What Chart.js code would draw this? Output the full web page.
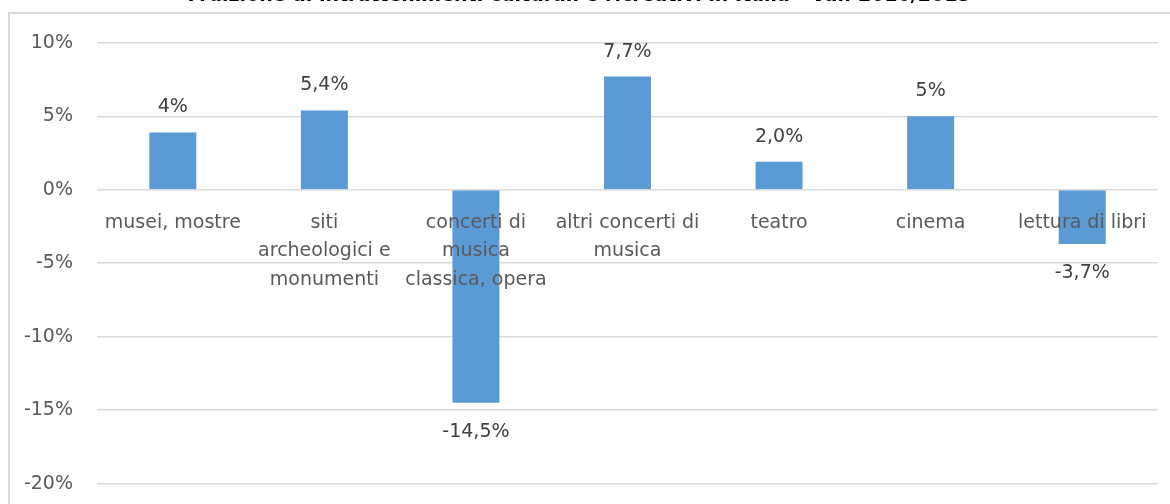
<!DOCTYPE html>
<html>
<head>
<meta charset="utf-8">
<script src="https://cdn.jsdelivr.net/npm/chart.js@4.4.1/dist/chart.umd.min.js"></script>
<style>
html, body { margin: 0; padding: 0; background: #fff; overflow: hidden; width: 1170px; height: 504px; }
#frame { position: absolute; left: 8px; top: 12px; width: 1300px; height: 600px; border: 2px solid #d9d9d9; }
#wrap { position: absolute; left: 0; top: -20px; width: 1170px; height: 539px; }
</style>
</head>
<body>
<div id="frame"></div>
<div id="wrap"><canvas id="chart"></canvas></div>
<script>
const chartTitle = 'Fruizione di intrattenimenti culturali e ricreativi in Italia - Var. 2016/2015';
const categories = [
    'musei, mostre',
    ['siti', 'archeologici e', 'monumenti'],
    ['concerti di', 'musica', 'classica, opera'],
    ['altri concerti di', 'musica'],
    'teatro',
    'cinema',
    'lettura di libri'
];
const values = [3.9, 5.4, -14.5, 7.7, 1.9, 5.0, -3.7];
const valueLabels = ['4%', '5,4%', '-14,5%', '7,7%', '2,0%', '5%', '-3,7%'];
const yMin = -20;
const yMax = 10;
const yStep = 5;

const fontFamily = '"DejaVu Sans"';

// draws the value above / below each bar
const valueLabelPlugin = {
    id: 'valueLabels',
    afterDatasetsDraw(chart) {
        const ctx = chart.ctx;
        const meta = chart.getDatasetMeta(0);
        ctx.save();
        ctx.font = '19px ' + fontFamily;
        ctx.fillStyle = '#404040';
        ctx.textAlign = 'center';
        ctx.textBaseline = 'middle';
        meta.data.forEach((bar, i) => {
            const y = values[i] >= 0 ? bar.y - 25 : bar.y + 29;
            ctx.fillText(valueLabels[i], bar.x, y);
        });
        ctx.restore();
    }
};

const ctx = document.getElementById('chart').getContext('2d');
const chart = new Chart(ctx, {
    type: 'bar',
    data: {
        labels: categories,
        datasets: [{
            data: values,
            backgroundColor: '#5b9bd5',
            borderWidth: 0,
            categoryPercentage: 1,
            barPercentage: 0.31
        }]
    },
    options: {
        responsive: true,
        maintainAspectRatio: false,
        animation: false,
        layout: { padding: { top: 0, bottom: 6, left: 0, right: 12 } },
        plugins: {
            legend: { display: false },
            tooltip: { enabled: false },
            title: {
                display: true,
                text: chartTitle,
                color: '#000',
                font: { family: fontFamily, size: 19, weight: 'bold', lineHeight: 1.2 },
                padding: { top: 5, bottom: 35 }
            }
        },
        scales: {
            x: {
                position: { y: 0 },
                grid: { display: false },
                border: { display: false },
                ticks: {
                    z: 1,
                    color: '#595959',
                    font: { family: fontFamily, size: 19, lineHeight: 1.5 },
                    padding: 11,
                    maxRotation: 0,
                    autoSkip: false
                }
            },
            y: {
                min: yMin,
                max: yMax,
                afterFit: scale => { scale.width = 97; },
                grid: { color: '#d9d9d9', lineWidth: 1.5, drawTicks: false },
                border: { display: false },
                ticks: {
                    stepSize: yStep,
                    color: '#595959',
                    font: { family: fontFamily, size: 19 },
                    padding: 24,
                    callback: v => v + '%'
                }
            }
        }
    },
    plugins: [valueLabelPlugin]
});
</script>
</body>
</html>
